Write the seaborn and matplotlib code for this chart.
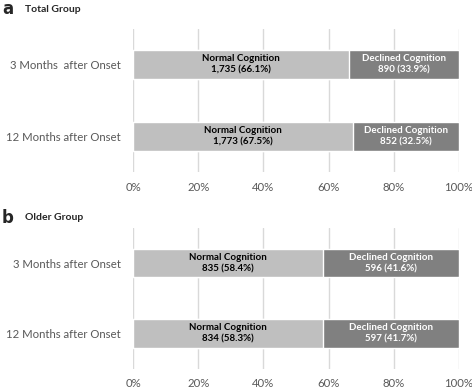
import numpy as np
import pandas as pd
import seaborn as sns
import matplotlib.pyplot as plt
from matplotlib.ticker import FuncFormatter

sns.set_style("white")
plt.rcParams["font.family"] = ["Lato", "DejaVu Sans"]

LIGHT = "#bfbfbf"
DARK = "#808080"
GRID = "#d9d9d9"
TICK = "#595959"

labels_a = ["3 Months  after Onset", "12 Months after Onset"]
normal_n_a = [1735, 1773]
normal_pct_a = [66.1, 67.5]
declined_n_a = [890, 852]
declined_pct_a = [33.9, 32.5]

labels_b = ["3 Months after Onset", "12 Months after Onset"]
normal_n_b = [835, 834]
normal_pct_b = [58.4, 58.3]
declined_n_b = [596, 597]
declined_pct_b = [41.6, 41.7]

panels = [
    ("a", "Total Group", labels_a, normal_n_a, normal_pct_a, declined_n_a, declined_pct_a),
    ("b", "Older Group", labels_b, normal_n_b, normal_pct_b, declined_n_b, declined_pct_b),
]

fig = plt.figure(figsize=(4.72, 3.89), dpi=100)
axes = [
    fig.add_axes([0.2818, 0.5566, 0.6907, 0.370]),
    fig.add_axes([0.2818, 0.052, 0.6907, 0.3625]),
]
title_y = [1 - 9 / 389, 1 - 218 / 389]

for ax, ty, (letter, title, labels, nn, npct, dn, dpct) in zip(axes, title_y, panels):
    df = pd.DataFrame({
        "period": labels,
        "normal": npct,
        "total": np.array(npct) + np.array(dpct),
    })
    sns.barplot(data=df, x="total", y="period", color=DARK, width=0.41,
                saturation=1, ax=ax, zorder=2)
    sns.barplot(data=df, x="normal", y="period", color=LIGHT, width=0.41,
                saturation=1, ax=ax, zorder=3)
    for i in range(len(labels)):
        ax.text(npct[i] / 2, i, f"Normal Cognition\n{nn[i]:,} ({npct[i]}%)",
                ha="center", va="center", fontsize=7, fontweight="bold",
                color="black", linespacing=1.3, zorder=4)
        ax.text(npct[i] + dpct[i] / 2, i, f"Declined Cognition\n{dn[i]:,} ({dpct[i]}%)",
                ha="center", va="center", fontsize=7, fontweight="bold",
                color="white", linespacing=1.3, zorder=4)
    ax.set_xlim(0, 100)
    ax.set_ylim(1.5, -0.5)
    ax.set_xticks(np.arange(0, 101, 20))
    ax.xaxis.set_major_formatter(FuncFormatter(lambda v, _: f"{v:.0f}%"))
    ax.grid(True, axis="x", color=GRID, lw=1, zorder=0)
    ax.set_axisbelow(True)
    sns.despine(ax=ax, left=True, bottom=True)
    ax.tick_params(axis="both", length=0, labelsize=8.2, labelcolor=TICK)
    ax.tick_params(axis="x", pad=7)
    ax.tick_params(axis="y", pad=9)
    ax.set_xlabel(None)
    ax.set_ylabel(None)
    fig.text(2 / 472, ty, letter, fontsize=12, fontweight="bold", va="center",
             family=["DejaVu Sans"])
    fig.text(25 / 472, ty, title, fontsize=7.5, fontweight="bold", va="center")

fig.savefig("out.png", dpi=100)
